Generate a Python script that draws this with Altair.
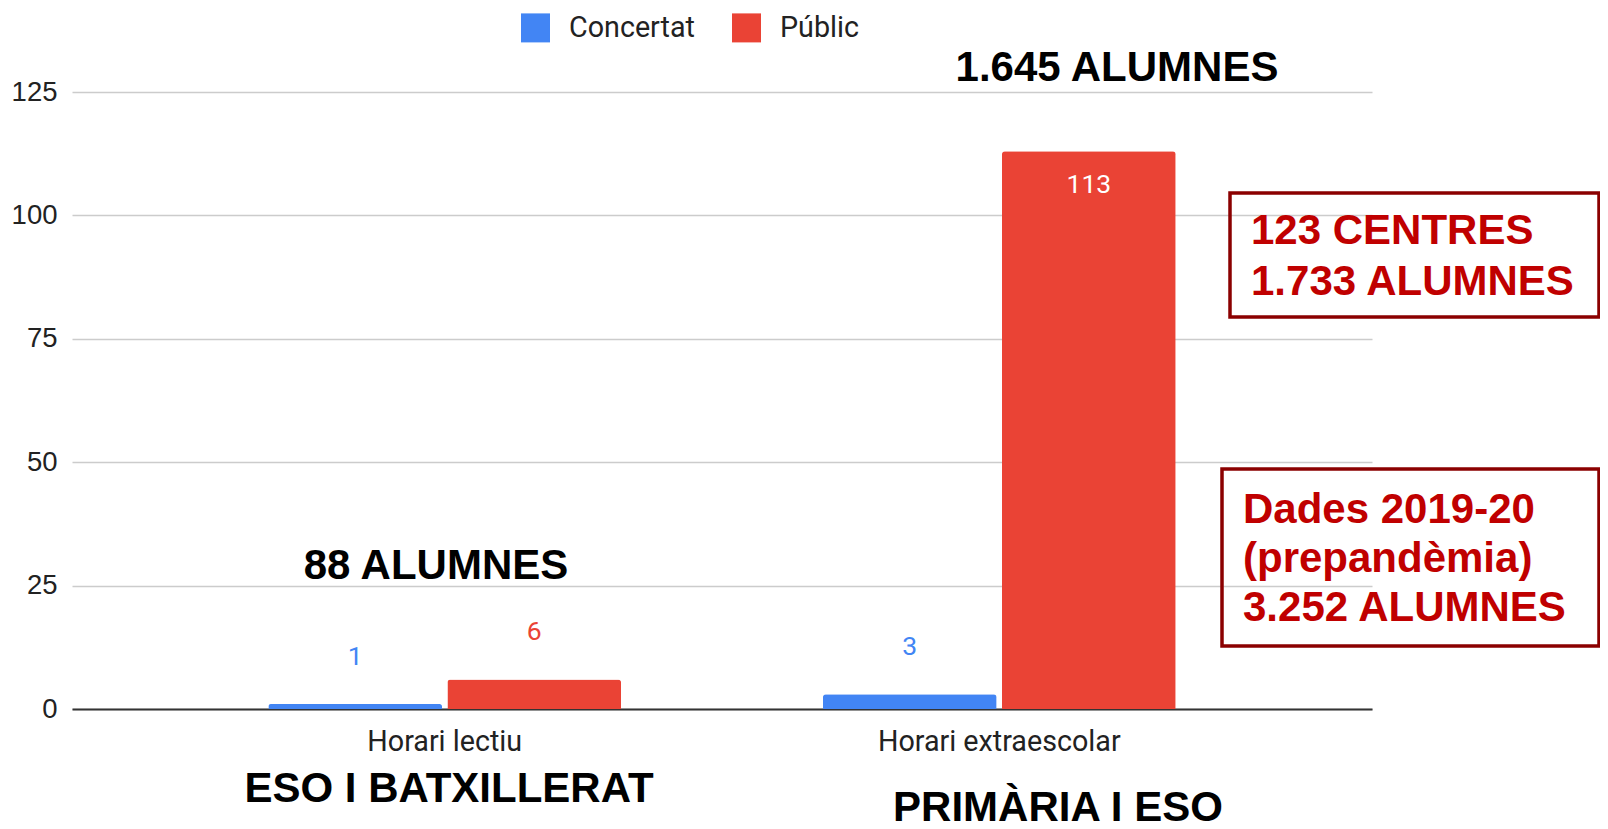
import altair as alt
import pandas as pd

# ---- data ----
categories = ["Horari lectiu", "Horari extraescolar"]
series_names = ["Concertat", "Públic"]
concertat = [1, 3]
public = [6, 113]
series_colors = ["#4285F4", "#EA4335"]
y_ticks = [0, 25, 50, 75, 100, 125]

note_top_right = "1.645 ALUMNES"
note_top_left = "88 ALUMNES"
note_bottom_left = "ESO I BATXILLERAT"
note_bottom_right = "PRIMÀRIA I ESO"
box1_lines = ["123 CENTRES", "1.733 ALUMNES"]
box2_lines = ["Dades 2019-20", "(prepandèmia)", "3.252 ALUMNES"]

rows = []
for i, c in enumerate(categories):
    rows.append({"categoria": c, "serie": series_names[0], "valor": concertat[i]})
    rows.append({"categoria": c, "serie": series_names[1], "valor": public[i]})
df = pd.DataFrame(rows)

W, H = 1300, 617

x_enc = alt.X(
    "categoria:N", sort=categories,
    scale=alt.Scale(paddingInner=0.364, paddingOuter=0.354),
    axis=alt.Axis(title=None, labelAngle=0, labelFont="Roboto", labelFontSize=28.7,
                  labelColor="#222222", labelPadding=18, labelLimit=0, ticks=False,
                  domainColor="#333333", domainWidth=2, grid=False),
)
xo_enc = alt.XOffset("serie:N", sort=series_names,
                     scale=alt.Scale(paddingInner=0.03, paddingOuter=0))
y_enc = alt.Y(
    "valor:Q",
    scale=alt.Scale(domain=[0, 125], nice=False),
    axis=alt.Axis(title=None, values=y_ticks, domain=False, ticks=False,
                  labelFont="Liberation Sans", labelFontSize=27.5, labelColor="#222222",
                  labelPadding=15, gridColor="#cccccc", gridWidth=1.5),
)
color_scale = alt.Scale(domain=series_names, range=series_colors)
color_enc = alt.Color(
    "serie:N", sort=series_names, scale=color_scale,
    legend=alt.Legend(title=None, orient="none", direction="horizontal",
                      legendX=449, legendY=-79, symbolType="square", symbolSize=841,
                      symbolStrokeWidth=0, labelFont="Roboto", labelFontSize=28.7,
                      labelColor="#222222", labelOffset=19, columnPadding=37),
)

base = alt.Chart(df)
bars = base.mark_bar(cornerRadiusTopLeft=3, cornerRadiusTopRight=3).encode(
    x=x_enc, xOffset=xo_enc, y=y_enc, color=color_enc
)
labels_out = base.transform_filter("datum.valor < 50").mark_text(
    font="Roboto", fontSize=26.5, dy=-47, baseline="middle"
).encode(x=x_enc, xOffset=xo_enc, y=y_enc, text="valor:Q",
         color=alt.Color("serie:N", scale=color_scale, legend=None))
labels_in = base.transform_filter("datum.valor >= 50").mark_text(
    font="Roboto", fontSize=26.5, dy=34, baseline="middle", color="white"
).encode(x=x_enc, xOffset=xo_enc, y=y_enc, text="valor:Q")


def note(text, x, y, color="black", align="center", line_height=50):
    return alt.Chart(pd.DataFrame({"t": [text]})).mark_text(
        font="Liberation Sans", fontWeight="bold", fontSize=42, color=color,
        align=align, baseline="middle", lineBreak="\n", lineHeight=line_height
    ).encode(text="t:N", x=alt.value(x), y=alt.value(y))


def box(x1, x2, y1, y2):
    return alt.Chart(pd.DataFrame({"t": [0]})).mark_rect(
        fillOpacity=0, stroke="#8B0000", strokeWidth=3.5
    ).encode(x=alt.value(x1), x2=alt.value(x2), y=alt.value(y1), y2=alt.value(y2))


notes = [
    note(note_top_right, 1045, -24),
    note(note_top_left, 364, 474),
    note(note_bottom_left, 377, 697),
    note(note_bottom_right, 986, 716),
    box(1158, 1527, 101, 225),
    note("\n".join(box1_lines), 1179, 139, color="#C00000", align="left", line_height=51),
    box(1150, 1527, 377, 554),
    note("\n".join(box2_lines), 1171, 418, color="#C00000", align="left", line_height=49),
]

chart = alt.layer(bars, labels_out, labels_in, *notes).properties(
    width=W, height=H,
    padding={"left": 64, "top": 84, "right": 228, "bottom": 120},
    autosize="none",
    background="white",
).configure_view(stroke=None)

chart.save("out.html", embed_options={"renderer": "svg", "actions": False})
